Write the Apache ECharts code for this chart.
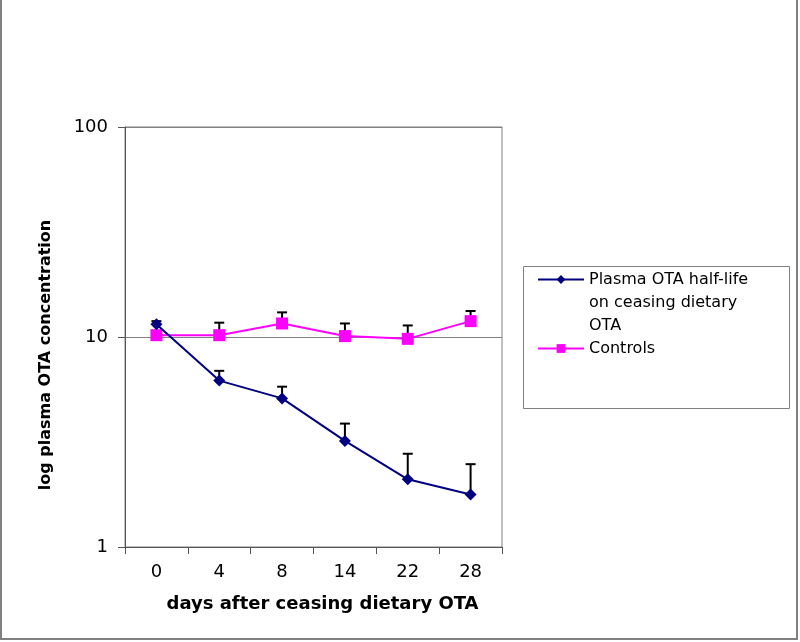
<!DOCTYPE html>
<html>
<head>
<meta charset="utf-8">
<script src="https://cdn.jsdelivr.net/npm/echarts@6/dist/echarts.min.js"></script>
<style>
html,body{margin:0;padding:0;background:#fff;}
#chart{width:800px;height:642px;}
</style>
</head>
<body>
<div id="chart"></div>
<script>
// ---- data ----
var days = ['0', '4', '8', '14', '22', '28'];
var plasmaName = 'Plasma OTA half-life on ceasing dietary OTA';
var controlsName = 'Controls';
var plasmaValues = [11.5, 6.2, 5.1, 3.2, 2.1, 1.78];
var plasmaErrTop = [11.9, 6.9, 5.8, 3.87, 2.78, 2.48];
var controlValues = [10.2, 10.2, 11.6, 10.1, 9.8, 11.9];
var controlErrTop = [null, 11.7, 13.1, 11.6, 11.35, 13.3];
var yTickValues = [1, 10, 100];

function errData(vals, tops) {
  var out = [];
  for (var i = 0; i < vals.length; i++) {
    if (tops[i] != null) out.push([i, vals[i], tops[i]]);
  }
  return out;
}

function renderErr(params, api) {
  var p0 = api.coord([api.value(0), api.value(1)]);
  var p1 = api.coord([api.value(0), api.value(2)]);
  var half = 5;
  var st = { stroke: '#000', lineWidth: 2 };
  return {
    type: 'group',
    children: [
      { type: 'line', shape: { x1: p0[0], y1: p0[1], x2: p1[0], y2: p1[1] }, style: st },
      { type: 'line', shape: { x1: p1[0] - half, y1: p1[1], x2: p1[0] + half, y2: p1[1] }, style: st }
    ]
  };
}

var chart = echarts.init(document.getElementById('chart'), null, { renderer: 'canvas' });
var option = {
  backgroundColor: '#fff',
  animation: false,
  grid: {
    left: 125, right: 298, top: 127, bottom: 95,
    show: true, borderColor: '#808080', borderWidth: 1
  },
  legend: {
    orient: 'vertical',
    left: 537,
    top: 222,
    padding: 0,
    itemWidth: 46,
    itemHeight: 11,
    itemGap: 0,
    textStyle: { fontFamily: 'DejaVu Sans', fontSize: 16, lineHeight: 23, color: '#000' },
    formatter: function (name) {
      if (name === plasmaName) return '\n\nPlasma OTA half-life\non ceasing dietary\nOTA';
      return name;
    },
    data: [
      { name: plasmaName },
      { name: controlsName }
    ]
  },
  xAxis: {
    type: 'category',
    data: days,
    boundaryGap: true,
    name: 'days after ceasing dietary OTA',
    nameLocation: 'middle',
    nameGap: 48,
    nameTextStyle: { fontFamily: 'DejaVu Sans', fontWeight: 'bold', fontSize: 18, color: '#000', padding: [0, 0, 0, 18] },
    axisLine: { lineStyle: { color: '#555', width: 1 } },
    axisTick: { show: true, interval: 0, length: 7, lineStyle: { color: '#555' } },
    axisLabel: { fontFamily: 'DejaVu Sans', fontSize: 18, color: '#000', margin: 16, interval: 0 },
    splitLine: { show: false }
  },
  yAxis: {
    type: 'log',
    logBase: 10,
    min: yTickValues[0],
    max: yTickValues[yTickValues.length - 1],
    name: 'log plasma OTA concentration',
    nameLocation: 'middle',
    nameGap: 71,
    nameRotate: 90,
    nameTextStyle: { fontFamily: 'DejaVu Sans', fontWeight: 'bold', fontSize: 16, color: '#000', padding: [0, 36, 0, 0] },
    axisLine: { show: true, lineStyle: { color: '#555', width: 1 } },
    axisTick: { show: true, length: 7, lineStyle: { color: '#555' } },
    axisLabel: { fontFamily: 'DejaVu Sans', fontSize: 18, color: '#000', margin: 17 },
    splitLine: { show: true, lineStyle: { color: '#808080', width: 1 } },
    minorTick: { show: false }
  },
  graphic: [
    {
      type: 'rect', left: 521, top: 264, silent: true,
      shape: { x: 0, y: 0, width: 266, height: 142 },
      style: { fill: 'none', stroke: '#808080', lineWidth: 1 },
      z: -1
    },
    {
      type: 'polyline', silent: true,
      shape: { points: [[1, -5], [1, 639], [797, 639], [797, -5]] },
      style: { fill: 'none', stroke: '#808080', lineWidth: 2 },
      z: 10
    }
  ],
  series: [
    {
      name: plasmaName + ' err',
      type: 'custom',
      renderItem: renderErr,
      encode: { x: 0, y: [1, 2] },
      data: errData(plasmaValues, plasmaErrTop),
      z: 1,
      silent: true
    },
    {
      name: controlsName + ' err',
      type: 'custom',
      renderItem: renderErr,
      encode: { x: 0, y: [1, 2] },
      data: errData(controlValues, controlErrTop),
      z: 1,
      silent: true
    },
    {
      name: plasmaName,
      type: 'line',
      data: plasmaValues,
      symbol: 'diamond',
      symbolSize: 12,
      itemStyle: { color: '#000080' },
      lineStyle: { color: '#000080', width: 2 },
      z: 3
    },
    {
      name: controlsName,
      type: 'line',
      data: controlValues,
      symbol: 'rect',
      symbolSize: 12,
      itemStyle: { color: '#FF00FF' },
      lineStyle: { color: '#FF00FF', width: 2 },
      z: 2
    }
  ]
};
chart.setOption(option);
</script>
</body>
</html>
